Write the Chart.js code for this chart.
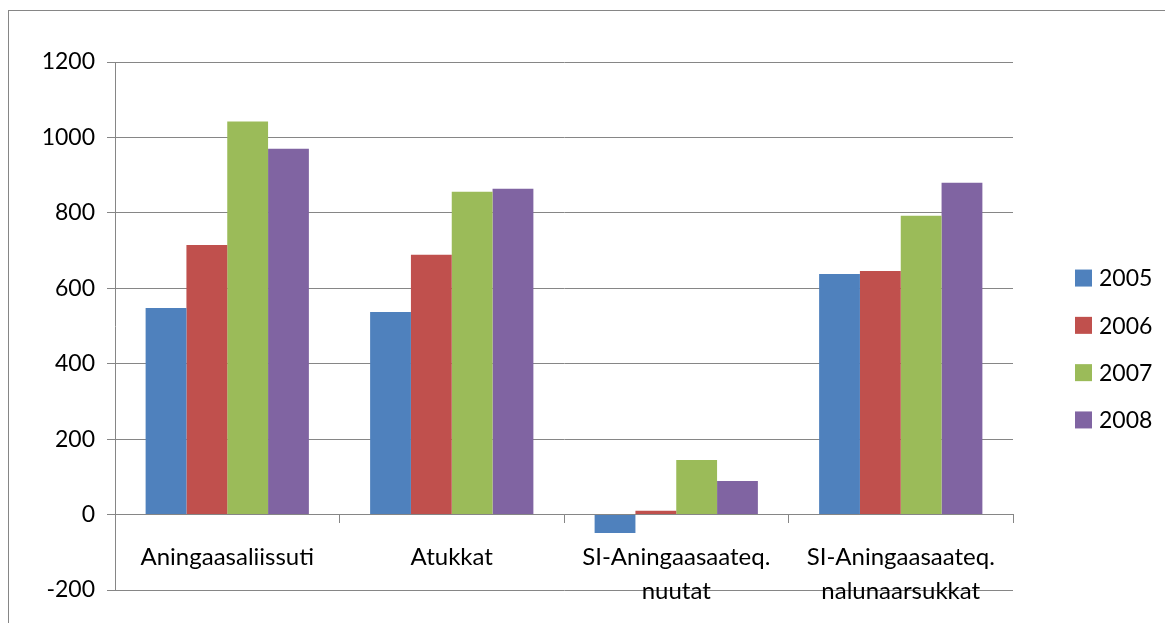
<!DOCTYPE html>
<html>
<head>
<meta charset="utf-8">
<script src="https://cdn.jsdelivr.net/npm/chart.js@4/dist/chart.umd.min.js"></script>
<style>
  html, body { margin: 0; padding: 0; background: #fff; }
  #wrap { width: 1165px; height: 623px; }
</style>
</head>
<body>
<div id="wrap"><canvas id="chart" width="1165" height="623"></canvas></div>
<script>
// Données
const categories = ['Aningaasaliissuti', 'Atukkat', ['SI-Aningaasaateq.', 'nuutat'], ['SI-Aningaasaateq.', 'nalunaarsukkat']];
const years = ['2005', '2006', '2007', '2008'];
const values2005 = [548, 537, -49, 638];
const values2006 = [715, 689, 10, 646];
const values2007 = [1042, 856, 145, 792];
const values2008 = [970, 864, 89, 880];
const yMin = -200, yMax = 1200, yStep = 200;

const colors = ['#4F81BD', '#C0504D', '#9BBB59', '#8064A2'];
const gridColor = '#868686';
const FONT = 'Lato, "Open Sans", sans-serif';

// cadre extérieur du graphique
const framePlugin = {
    id: 'frame',
    beforeDraw(chart) {
        const ctx = chart.ctx;
        ctx.save();
        ctx.strokeStyle = gridColor;
        ctx.lineWidth = 1;
        ctx.strokeRect(8.5, 10.5, 1200, 700);
        ctx.restore();
    }
};

// légende à droite, façon Excel
const sideLegend = {
    id: 'sideLegend',
    afterDraw(chart) {
        const ctx = chart.ctx;
        const area = chart.chartArea;
        const x = area.right + 62;
        const gap = 47.3;
        const n = chart.data.datasets.length;
        const mid = (area.top + area.bottom) / 2 + 23;
        ctx.save();
        ctx.font = '23px ' + FONT;
        ctx.textBaseline = 'middle';
        chart.data.datasets.forEach((ds, i) => {
            const y = mid + (i - (n - 1) / 2) * gap;
            ctx.fillStyle = ds.backgroundColor;
            ctx.fillRect(x, y - 8.5, 17, 17);
            ctx.fillStyle = '#000';
            ctx.fillText(ds.label, x + 24, y + 1);
        });
        ctx.restore();
    }
};

const seriesValues = [values2005, values2006, values2007, values2008];

new Chart(document.getElementById('chart'), {
    type: 'bar',
    data: {
        labels: categories,
        datasets: years.map((y, i) => ({
            label: y,
            data: seriesValues[i],
            backgroundColor: colors[i],
            borderWidth: 0,
            barPercentage: 1,
            categoryPercentage: 4 / 5.5
        }))
    },
    options: {
        responsive: false,
        animation: false,
        layout: { padding: { left: 0, top: 62, right: 152, bottom: 33 } },
        plugins: {
            legend: { display: false },
            tooltip: { enabled: false }
        },
        scales: {
            x: {
                position: { y: 0 },
                grid: { offset: true, drawOnChartArea: false, tickLength: 8, color: gridColor },
                border: { color: gridColor },
                ticks: {
                    color: '#000',
                    padding: 18,
                    maxRotation: 0,
                    autoSkip: false,
                    font: { family: FONT, size: 24, lineHeight: 1.4 }
                }
            },
            y: {
                min: yMin,
                max: yMax,
                afterFit(scale) { scale.width = 115; },
                grid: { color: gridColor, tickLength: 8 },
                border: { color: gridColor },
                ticks: {
                    stepSize: yStep,
                    color: '#000',
                    padding: 12,
                    callback: v => String(v),
                    font: { family: FONT, size: 23 }
                }
            }
        }
    },
    plugins: [framePlugin, sideLegend]
});
</script>
</body>
</html>
